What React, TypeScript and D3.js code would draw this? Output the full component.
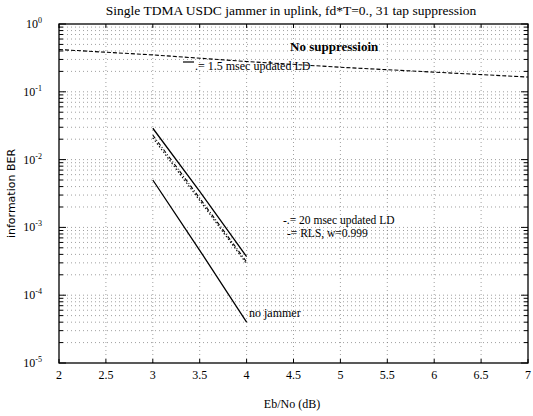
import React from "react";
import * as d3 from "d3";

const WIDTH = 533;
const HEIGHT = 416;
const Margin = { top: 24, right: 4, bottom: 53, left: 59 };

const TITLE = "Single TDMA USDC jammer in uplink, fd*T=0., 31 tap suppression";

// Eb/No (dB) sample points
const snrLong = [2, 3, 4, 5, 6, 7];
const snrShort = [3, 3.5, 4];

// BER values
const noSuppression = [0.42, 0.35, 0.28, 0.23, 0.195, 0.165];
const solidUpper = [0.029, 0.0034, 0.00037];
const ld20msec = [0.023, 0.0027, 0.00031];
const rls = [0.021, 0.0025, 0.00029];
const noJammer = [0.005, 0.00046, 0.00004];

const xTicks = [2, 2.5, 3, 3.5, 4, 4.5, 5, 5.5, 6, 6.5, 7];
const yDecades = [0, -1, -2, -3, -4, -5];

const serif = "'Liberation Serif', 'DejaVu Serif', serif";
const sans = "'DejaVu Sans', 'Liberation Sans', sans-serif";

const App = () => {
  const x = d3
    .scaleLinear()
    .domain([2, 7])
    .range([Margin.left, WIDTH - Margin.right - 1]);
  const y = d3
    .scaleLog()
    .domain([1e-5, 1])
    .range([HEIGHT - Margin.bottom, Margin.top]);

  const x0 = x(2);
  const x1 = x(7);
  const y0 = y(1e-5);
  const y1 = y(1);

  // minor log ticks 2..9 in every decade
  const yMinor: number[] = [];
  for (let e = -5; e < 0; e++) {
    for (let m = 2; m <= 9; m++) yMinor.push(m * Math.pow(10, e));
  }

  const line = d3
    .line<[number, number]>()
    .x((d) => x(d[0]))
    .y((d) => y(d[1]));

  const toPts = (xs: number[], ys: number[]) =>
    xs.map((v, i) => [v, ys[i]] as [number, number]);

  return (
    <div style={{ position: "fixed", left: 0, top: 0 }}>
      <svg width={WIDTH} height={HEIGHT} style={{ display: "block", background: "#fff" }}>
        {/* grid */}
        <g stroke="#777" strokeWidth={0.7} strokeDasharray="1,3">
          {xTicks.slice(1, -1).map((t) => (
            <line key={"gx" + t} x1={x(t)} x2={x(t)} y1={y0} y2={y1} />
          ))}
          {yMinor.concat(yDecades.slice(1, -1).map((e) => Math.pow(10, e))).map((v) => (
            <line key={"gy" + v} x1={x0} x2={x1} y1={y(v)} y2={y(v)} />
          ))}
        </g>

        {/* frame */}
        <rect x={x0} y={y1} width={x1 - x0} height={y0 - y1} fill="none" stroke="#000" strokeWidth={1.3} />

        {/* ticks */}
        <g stroke="#000" strokeWidth={1}>
          {xTicks.map((t) => (
            <g key={"xt" + t}>
              <line x1={x(t)} x2={x(t)} y1={y0} y2={y0 - 4} />
              <line x1={x(t)} x2={x(t)} y1={y1} y2={y1 + 4} />
            </g>
          ))}
          {yMinor.map((v) => (
            <g key={"ym" + v}>
              <line x1={x0} x2={x0 + 4} y1={y(v)} y2={y(v)} />
              <line x1={x1} x2={x1 - 4} y1={y(v)} y2={y(v)} />
            </g>
          ))}
          {yDecades.map((e) => (
            <g key={"yM" + e}>
              <line x1={x0} x2={x0 + 7} y1={y(Math.pow(10, e))} y2={y(Math.pow(10, e))} />
              <line x1={x1} x2={x1 - 7} y1={y(Math.pow(10, e))} y2={y(Math.pow(10, e))} />
            </g>
          ))}
        </g>

        {/* tick labels */}
        <g fontFamily={serif} fontSize={12} fill="#000">
          {xTicks.map((t) => (
            <text key={"xl" + t} x={x(t)} y={y0 + 16} textAnchor="middle">
              {String(t)}
            </text>
          ))}
          {yDecades.map((e) => (
            <text key={"yl" + e} x={x0 - 17} y={y(Math.pow(10, e)) + 4} textAnchor="end">
              10
              <tspan fontSize={8} dy={-5}>
                {String(e)}
              </tspan>
            </text>
          ))}
        </g>

        {/* curves */}
        <g fill="none" stroke="#000">
          <path d={line(toPts(snrLong, noSuppression)) || ""} strokeWidth={1.1} strokeDasharray="4,2" />
          <path d={line(toPts(snrShort, solidUpper)) || ""} strokeWidth={1.3} />
          <path d={line(toPts(snrShort, ld20msec)) || ""} strokeWidth={1.1} strokeDasharray="4,2,1,2" />
          <path d={line(toPts(snrShort, rls)) || ""} strokeWidth={1.1} strokeDasharray="1.5,2" />
          <path d={line(toPts(snrShort, noJammer)) || ""} strokeWidth={1.3} />
        </g>

        {/* annotations */}
        <g fontFamily={serif} fill="#000">
          <text x={290} y={51} fontSize={13} fontWeight="bold">No suppressioin</text>
          <line x1={183} x2={194} y1={62} y2={62} stroke="#000" strokeWidth={1.2} />
          <text x={195} y={70} fontSize={12}>.= 1.5 msec updated LD</text>
          <text x={283} y={224} fontSize={11.5}>-.= 20 msec updated LD</text>
          <text x={287} y={237} fontSize={11.5}>-= RLS, w=0.999</text>
          <text x={249} y={317} fontSize={12}>no jammer</text>
        </g>

        {/* title and axis labels */}
        <text x={291} y={15} textAnchor="middle" fontFamily={serif} fontSize={13.5}>
          {TITLE}
        </text>
        <text x={292} y={408} textAnchor="middle" fontFamily={serif} fontSize={12}>
          Eb/No (dB)
        </text>
        <text
          transform={`translate(15, ${(y0 + y1) / 2}) rotate(-90)`}
          textAnchor="middle"
          fontFamily={sans}
          fontSize={11}
        >
          information BER
        </text>
      </svg>
    </div>
  );
};

export default App;
